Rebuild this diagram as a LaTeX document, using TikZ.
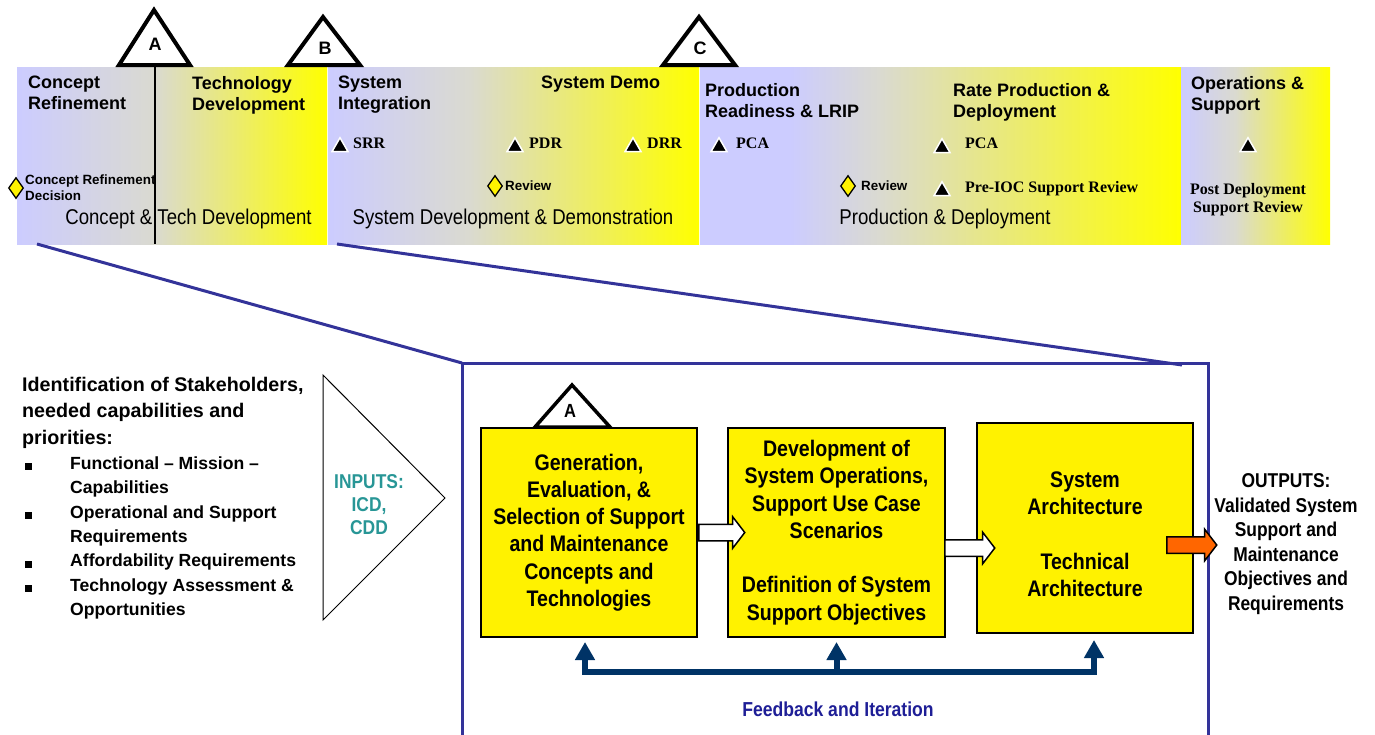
\documentclass[tikz,border=0pt]{standalone}
\usepackage{fontspec}
\setmainfont{Liberation Sans}
\newfontfamily\narrowfont[FakeStretch=0.87]{Liberation Sans}
\newfontfamily\timesfont{Liberation Serif}
\usetikzlibrary{shapes.geometric,shapes.arrows,arrows.meta,positioning,calc}

\definecolor{lav}{RGB}{204,204,255}
\definecolor{midgrey}{RGB}{218,218,208}
\definecolor{frameblue}{RGB}{51,51,153}
\definecolor{fbnavy}{RGB}{0,51,102}
\definecolor{inputteal}{RGB}{40,150,150}
\definecolor{fbtext}{RGB}{30,30,150}
\definecolor{outorange}{RGB}{255,102,0}

\newcommand\sqbul{\rule[-1pt]{6.5pt}{7pt}}

\tikzset{fbtip/.tip={Triangle[width=19pt,length=18pt]}}

\begin{document}
\begin{tikzpicture}[x=1pt,y=-1pt,
	hdr/.style={font=\bfseries\fontsize{18}{21}\selectfont, align=left, anchor=north west, inner sep=0pt},
	mtri/.style={regular polygon, regular polygon sides=3, fill=black, draw=white, line width=1.5pt, minimum size=18.5pt, inner sep=0pt},
	mlbl/.style={font=\timesfont\bfseries\fontsize{16}{18}\selectfont, anchor=base west, inner sep=0pt},
	decmark/.style={diamond, fill=yellow, draw=black, line width=1.3pt, minimum width=15pt, minimum height=21pt, inner sep=0pt},
	declbl/.style={font=\bfseries\fontsize{13.4}{15.5}\selectfont, align=left, anchor=north west, inner sep=0pt},
	phaselbl/.style={font=\narrowfont\fontsize{21.4}{24}\selectfont, anchor=base, inner sep=0pt},
	gate/.style={draw=black, fill=white, line width=4pt},
	gatelbl/.style={font=\bfseries\fontsize{18}{20}\selectfont, anchor=base, inner sep=0pt},
	funnel/.style={draw=frameblue, line width=3pt},
	stepbox/.style={draw=black, fill=yellow, line width=2pt, minimum width=216pt, minimum height=209pt, align=center, inner sep=0pt, font=\narrowfont\bfseries\fontsize{22.5}{27.3}\selectfont},
	steptxt/.style={align=center, inner sep=0pt, font=\narrowfont\bfseries\fontsize{22.5}{27.3}\selectfont},
	blockarrow/.style={single arrow, draw=black, fill=white, line width=1.5pt, inner xsep=0pt, inner ysep=7.5pt, single arrow head extend=7.5pt, single arrow tip angle=105, minimum height=46pt, anchor=tail},
	fbline/.style={draw=fbnavy, line width=6pt},
	bigtxt/.style={font=\narrowfont\bfseries\fontsize{20}{24.5}\selectfont, align=center, inner sep=0pt}
	]

	\useasboundingbox (0,0) rectangle (1375,734);

	% phase bar
	\foreach \xa/\xb/\ca/\cb in {17/155/lav/midgrey, 155/327/midgrey/yellow,
		328/470/lav/midgrey, 470/699/midgrey/yellow,
		700/790/lav/lav, 790/880/lav/midgrey, 880/1181/midgrey/yellow,
		1181/1235/lav/midgrey, 1235/1330/midgrey/yellow}
		\fill[left color=\ca, right color=\cb] (\xa,67) rectangle (\xb,244);
	\draw[line width=1.5pt] (155,67) -- (155,244);

	% decision gates
	\draw[gate] (119,65) -- (154,10) -- (190,65) -- cycle;
	\draw[gate] (288,65) -- (323,17) -- (360,65) -- cycle;
	\draw[gate] (663,65) -- (699,17) -- (735,65) -- cycle;
	\node[gatelbl] (gateA) at (155,50) {A};
	\node[gatelbl] (gateB) at (325,54) {B};
	\node[gatelbl] (gateC) at (700,54) {C};

	% phase headers
	\node[hdr] (cref) at (28,76) {Concept\\Refinement};
	\node[hdr] (tdev) at (192,76) {Technology\\Development};
	\node[hdr] (sint) at (338,76) {System\\Integration};
	\node[hdr] (sdemo) at (541,76) {System Demo};
	\node[hdr] (lrip) at (705,83) {Production\\Readiness \& LRIP};
	\node[hdr] (rate) at (953,83) {Rate Production \&\\Deployment};
	\node[hdr] (opsup) at (1191,76) {Operations \&\\Support};

	% milestones
	\node[mtri] (srr) at (340,147) {};
	\node[mlbl] (srrl) at (353,148) {SRR};
	\node[mtri] (pdr) at (515,147) {};
	\node[mlbl] (pdrl) at (529,148) {PDR};
	\node[mtri] (drr) at (633,147) {};
	\node[mlbl] (drrl) at (647,148) {DRR};
	\node[mtri] (pcaa) at (719,147) {};
	\node[mlbl] (pcaal) at (736,148) {PCA};
	\node[mtri] (pcab) at (942,148) {};
	\node[mlbl] (pcabl) at (965,148) {PCA};
	\node[mtri] (ioc) at (942,191) {};
	\node[mlbl] (iocl) at (965,192) {Pre-IOC Support Review};
	\node[mtri] (pdsr) at (1248,147) {};
	\node[font=\timesfont\bfseries\fontsize{16}{18}\selectfont, align=center, anchor=north, inner sep=0pt] (pdsrl) at (1248,183) {Post Deployment\\Support Review};

	% decisions and reviews
	\node[decmark] (crd) at (16,188) {};
	\node[declbl] (crdl) at (25,175) {Concept Refinement\\Decision};
	\node[decmark] (rva) at (495,186) {};
	\node[declbl] (rval) at (505,181) {Review};
	\node[decmark] (rvb) at (848,186) {};
	\node[declbl] (rvbl) at (861,181) {Review};

	% phase names
	\node[phaselbl] (ctd) at (188.5,224) {Concept \& Tech Development};
	\node[phaselbl] (sdd) at (513,224) {System Development \& Demonstration};
	\node[phaselbl] (pd) at (945,224) {Production \& Deployment};

	% zoom frame
	\coordinate (barL) at (37,244);
	\coordinate (barM) at (337,244);
	\coordinate (frNW) at (462,363);
	\coordinate (frNE) at (1208,363);
	\coordinate (frSW) at (462,736);
	\coordinate (frSE) at (1208,736);
	\coordinate (funR) at (1182,365);
	\draw[funnel] (frSW) -- (frNW) -- (frNE) -- (frSE);
	\draw[funnel] (barL) -- (frNW);
	\draw[funnel] (barM) -- (funR);

	% stakeholder needs
	\node[font=\bfseries\fontsize{19.7}{26.5}\selectfont, align=left, anchor=north west, inner sep=0pt] (needs) at (22,377) {Identification of Stakeholders,\\needed capabilities and\\priorities:};
	\node[font=\bfseries\fontsize{17.6}{24.4}\selectfont, anchor=north west, inner sep=0pt] (needlist) at (25,452) {%
		\begin{tabular}{@{}p{45pt}@{}l@{}}
			\sqbul & Functional – Mission –\\
			& Capabilities\\
			\sqbul & Operational and Support\\
			& Requirements\\
			\sqbul & Affordability Requirements\\
			\sqbul & Technology Assessment \&\\
			& Opportunities
		\end{tabular}};

	% inputs
	\draw[line width=1pt] (323,375) -- (445,498) -- (323,620) -- cycle;
	\node[bigtxt, text=inputteal, font=\narrowfont\bfseries\fontsize{20}{23}\selectfont] (inputs) at (369,505) {INPUTS:\\ICD,\\CDD};

	% process boxes
	\node[stepbox] (gen) at (589,532.5) {Generation,\\Evaluation, \&\\Selection of Support\\and Maintenance\\Concepts and\\Technologies};
	\node[stepbox, minimum width=217pt] (ops) at (836.5,532.5) {Development of\\System Operations,\\Support Use Case\\Scenarios\\[27.3pt]Definition of System\\Support Objectives};
	\node[stepbox, minimum height=210pt] (arch) at (1085,528) {};
	\node[steptxt] (archtxt) at ($(arch.center)+(0,6.5)$) {System\\Architecture\\[27.3pt]Technical\\Architecture};

	\draw[gate, line width=3.5pt] (535,427) -- (572,385) -- (610,427) -- cycle;
	\node[font=\narrowfont\bfseries\fontsize{19}{20}\selectfont, anchor=base, inner sep=0pt] (smallA) at (570,417) {A};

	\node[blockarrow] (gen2ops) at (gen.east) {};
	\node[blockarrow, minimum height=50pt] (ops2arch) at ($(ops.east)+(-2,15.5)$) {};
	\node[blockarrow, minimum height=50pt, fill=outorange] (arch2out) at ($(arch.east)+(-28,17)$) {};

	% outputs
	\node[bigtxt] (outs) at (1286,544) {OUTPUTS:\\Validated System\\Support and\\Maintenance\\Objectives and\\Requirements};

	% feedback
	\coordinate (fbrow) at (0,672);
	\coordinate (fbA) at ($(gen.south)+(-4,4)$);
	\coordinate (fbC) at ($(arch.south)+(9,6)$);
	\draw[fbline, fbtip-fbtip] (fbA) -- (fbA |- fbrow) -- (fbC |- fbrow) -- (fbC);
	\draw[fbline, -fbtip] (ops.south |- fbrow) -- ($(ops.south)+(0,4)$);
	\node[bigtxt, text=fbtext, font=\narrowfont\bfseries\fontsize{20.2}{24}\selectfont] (fbl) at (838,709) {Feedback and Iteration};

\end{tikzpicture}
\end{document}
